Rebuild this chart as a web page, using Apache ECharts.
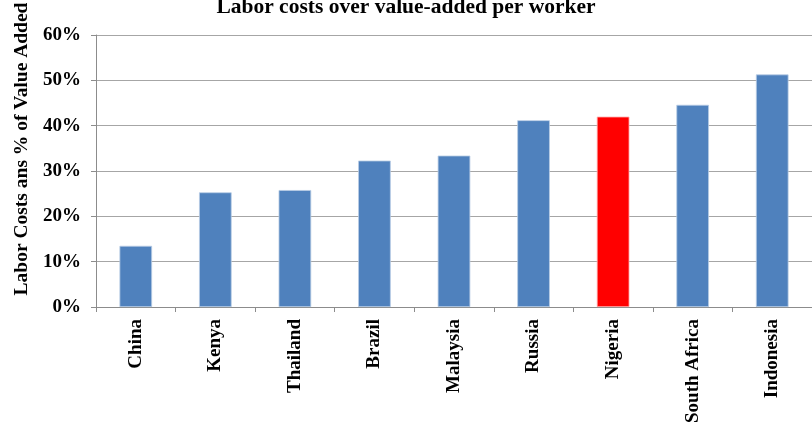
<!DOCTYPE html>
<html>
<head>
<meta charset="utf-8">
<style>
  html, body { margin: 0; padding: 0; background: #ffffff; }
  #chart { width: 812px; height: 426px; }
</style>
<script src="https://cdn.jsdelivr.net/npm/echarts@6/dist/echarts.min.js"></script>
</head>
<body>
<div id="chart"></div>
<script>
// Labor costs as a share of value added per worker, by country
const countries = ['China', 'Kenya', 'Thailand', 'Brazil', 'Malaysia', 'Russia', 'Nigeria', 'South Africa', 'Indonesia'];
const laborShare = [13.5, 25.3, 25.8, 32.3, 33.4, 41.2, 42.0, 44.6, 51.3];
const highlighted = 'Nigeria';
const yTicks = [0, 10, 20, 30, 40, 50, 60];

const FONT = '"Liberation Serif", "Times New Roman", serif';
const BLUE = '#4f81bd';
const RED = '#ff0000';

const chart = echarts.init(document.getElementById('chart'), null, { renderer: 'canvas' });

chart.setOption({
  animation: false,
  backgroundColor: '#ffffff',
  title: {
    text: 'Labor costs over value-added per worker',
    left: 'center',
    top: -9,
    textStyle: { fontFamily: FONT, fontWeight: 'bold', fontSize: 21.5, color: '#000' }
  },
  grid: { left: 96, top: 35, right: -8, bottom: 118, containLabel: false },
  xAxis: {
    type: 'category',
    data: countries,
    axisLine: { lineStyle: { color: '#8c8c8c', width: 1 } },
    axisTick: { show: true, length: 5, alignWithLabel: false, lineStyle: { color: '#8c8c8c' } },
    axisLabel: {
      rotate: 90,
      interval: 0,
      margin: 12,
      fontFamily: FONT,
      fontWeight: 'bold',
      fontSize: 19,
      color: '#000'
    }
  },
  yAxis: {
    type: 'value',
    min: yTicks[0],
    max: yTicks[yTicks.length - 1],
    interval: 10,
    name: 'Labor Costs ans % of Value Added',
    nameLocation: 'middle',
    nameGap: 58,
    nameRotate: 90,
    nameTextStyle: {
      fontFamily: FONT, fontWeight: 'bold', fontSize: 19.5, color: '#000',
      padding: [0, 0, 0, 44]
    },
    axisLine: { show: true, lineStyle: { color: '#8c8c8c', width: 1 } },
    axisTick: { show: true, length: 5, lineStyle: { color: '#8c8c8c' } },
    splitLine: { show: true, lineStyle: { color: '#a6a6a6', width: 1 } },
    axisLabel: {
      margin: 15,
      fontFamily: FONT,
      fontWeight: 'bold',
      fontSize: 19,
      color: '#000',
      formatter: v => v + '%'
    }
  },
  series: [{
    type: 'bar',
    barWidth: '41%',
    data: laborShare.map((v, i) => ({
      value: v,
      itemStyle: {
        color: countries[i] === highlighted ? RED : BLUE,
        borderColor: countries[i] === highlighted ? '#ffb0b0' : '#b9cde5',
        borderWidth: 0.8
      }
    }))
  }]
});
</script>
</body>
</html>
